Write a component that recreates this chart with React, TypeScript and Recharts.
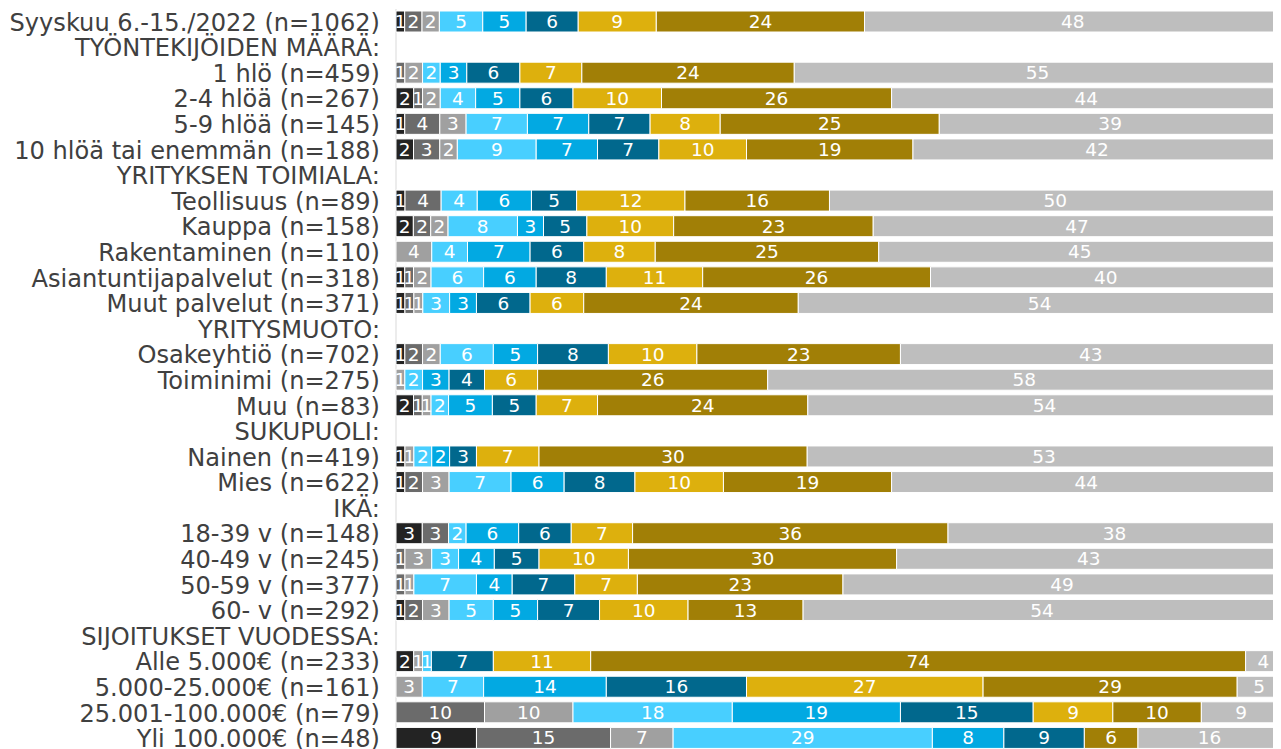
import { BarChart, Bar, XAxis, YAxis, CartesianGrid, LabelList } from "recharts";

// category rows, headers have no values
const categories = [
  "Syyskuu 6.-15./2022 (n=1062)",
  "TYÖNTEKIJÖIDEN MÄÄRÄ:",
  "1 hlö (n=459)",
  "2-4 hlöä (n=267)",
  "5-9 hlöä (n=145)",
  "10 hlöä tai enemmän (n=188)",
  "YRITYKSEN TOIMIALA:",
  "Teollisuus (n=89)",
  "Kauppa (n=158)",
  "Rakentaminen (n=110)",
  "Asiantuntijapalvelut (n=318)",
  "Muut palvelut (n=371)",
  "YRITYSMUOTO:",
  "Osakeyhtiö (n=702)",
  "Toiminimi (n=275)",
  "Muu (n=83)",
  "SUKUPUOLI:",
  "Nainen (n=419)",
  "Mies (n=622)",
  "IKÄ:",
  "18-39 v (n=148)",
  "40-49 v (n=245)",
  "50-59 v (n=377)",
  "60- v (n=292)",
  "SIJOITUKSET VUODESSA:",
  "Alle 5.000€ (n=233)",
  "5.000-25.000€ (n=161)",
  "25.001-100.000€ (n=79)",
  "Yli 100.000€ (n=48)",
];

const black =     [1, null, 0, 2, 1, 2, null, 1, 2, 0, 1, 1, null, 1, 0, 2, null, 1, 1, null, 3, 0, 0, 1, null, 2, 0, 0, 9];
const darkGray =  [2, null, 1, 1, 4, 3, null, 4, 2, 0, 1, 1, null, 2, 0, 1, null, 0, 2, null, 3, 1, 1, 2, null, 0, 0, 10, 15];
const gray =      [2, null, 2, 2, 3, 2, null, 0, 2, 4, 2, 1, null, 2, 1, 1, null, 1, 3, null, 0, 3, 1, 3, null, 1, 3, 10, 7];
const lightBlue = [5, null, 2, 4, 7, 9, null, 4, 8, 4, 6, 3, null, 6, 2, 2, null, 2, 7, null, 2, 3, 7, 5, null, 1, 7, 18, 29];
const blue =      [5, null, 3, 5, 7, 7, null, 6, 3, 7, 6, 3, null, 5, 3, 5, null, 2, 6, null, 6, 4, 4, 5, null, 0, 14, 19, 8];
const darkBlue =  [6, null, 6, 6, 7, 7, null, 5, 5, 6, 8, 6, null, 8, 4, 5, null, 3, 8, null, 6, 5, 7, 7, null, 7, 16, 15, 9];
const yellow =    [9, null, 7, 10, 8, 10, null, 12, 10, 8, 11, 6, null, 10, 6, 7, null, 7, 10, null, 7, 10, 7, 10, null, 11, 27, 9, 0];
const gold =      [24, null, 24, 26, 25, 19, null, 16, 23, 25, 26, 24, null, 23, 26, 24, null, 30, 19, null, 36, 30, 23, 13, null, 74, 29, 10, 6];
const lightGray = [48, null, 55, 44, 39, 42, null, 50, 47, 45, 40, 54, null, 43, 58, 54, null, 53, 44, null, 38, 43, 49, 54, null, 4, 5, 9, 16];

const series = [black, darkGray, gray, lightBlue, blue, darkBlue, yellow, gold, lightGray];
const colors = ["#232323", "#6b6b6b", "#a0a0a0", "#48cfff", "#02a9e2", "#01688d", "#ddb00d", "#a17f06", "#bebebe"];
const gridTicks = [0, 0.1, 0.2, 0.3, 0.4, 0.5, 0.6, 0.7, 0.8, 0.9, 1];

const data = categories.map((name, i) => {
  const row: Record<string, string | number | null> = { name };
  series.forEach((s, k) => {
    row["s" + k] = s[i];
  });
  return row;
});

const font = "'DejaVu Sans', Verdana, sans-serif";

const CategoryTick = ({ x, y, payload }: { x?: number; y?: number; payload?: { value: string } }) => (
  <text x={x} y={y} dy="0.37em" textAnchor="end" fill="#404040" fontSize={24.1} fontFamily={font}>
    {payload?.value}
  </text>
);

export default function App() {
  return (
    <div style={{ width: 1273, height: 743 }}>
      <style>{"html,body{overflow:hidden}"}</style>
      <BarChart
        width={1273}
        height={743}
        data={data}
        layout="vertical"
        stackOffset="expand"
        barSize={21}
        margin={{ top: 1, right: 0, bottom: 0, left: 0 }}
      >
        <CartesianGrid horizontal={false} stroke="#d9d9d9" />
        <XAxis
          type="number"
          orientation="top"
          domain={[0, 1]}
          ticks={gridTicks}
          tick={false}
          tickLine={false}
          height={0}
          axisLine={{ stroke: "#d9d9d9" }}
        />
        <YAxis
          type="category"
          dataKey="name"
          width={388}
          interval={0}
          axisLine={false}
          tickLine={false}
          tickSize={0}
          tickMargin={16}
          tick={<CategoryTick />}
        />
        {series.map((_, k) => (
          <Bar key={k} dataKey={"s" + k} stackId="a" fill={colors[k]} stroke="#ffffff" strokeWidth={1} isAnimationActive={false}>
            <LabelList
              dataKey={"s" + k}
              position="center"
              fill="#ffffff"
              fontSize={18.5}
              fontFamily={font}
              formatter={(v: unknown) => (v ? String(v) : "")}
            />
          </Bar>
        ))}
      </BarChart>
    </div>
  );
}
